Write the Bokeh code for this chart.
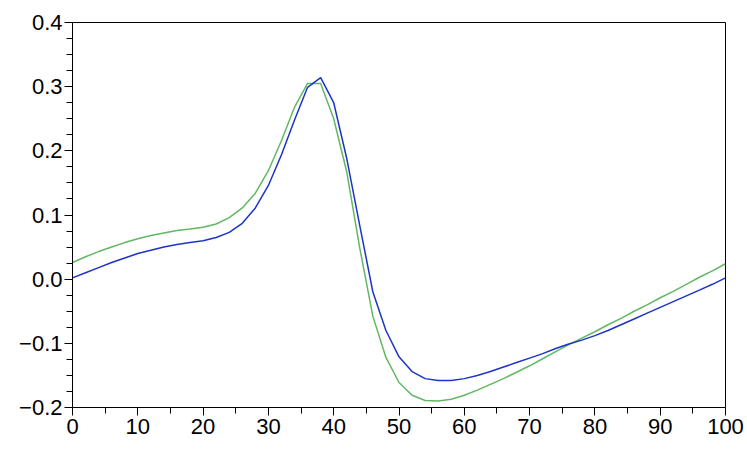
from bokeh.plotting import figure
from bokeh.models import Range1d, FixedTicker, CustomJSTickFormatter
from bokeh.embed import file_html
from bokeh.resources import INLINE

x = list(range(0, 101, 2))

blue = [0.002, 0.010, 0.018, 0.026, 0.033, 0.040, 0.045, 0.050, 0.054, 0.057,
        0.060, 0.065, 0.073, 0.087, 0.111, 0.146, 0.194, 0.248, 0.299, 0.314,
        0.275, 0.188, 0.083, -0.020, -0.080, -0.121, -0.144, -0.155, -0.158, -0.158,
        -0.155, -0.150, -0.144, -0.137, -0.130, -0.123, -0.116, -0.108, -0.101, -0.095,
        -0.088, -0.080, -0.071, -0.062, -0.053, -0.044, -0.035, -0.026, -0.017, -0.008,
        0.002]

green = [0.026, 0.035, 0.043, 0.050, 0.057, 0.063, 0.068, 0.072, 0.076, 0.078,
         0.081, 0.086, 0.096, 0.111, 0.134, 0.169, 0.216, 0.268, 0.305, 0.305,
         0.250, 0.167, 0.048, -0.058, -0.122, -0.161, -0.181, -0.189, -0.190, -0.187,
         -0.181, -0.173, -0.164, -0.155, -0.145, -0.135, -0.124, -0.113, -0.102, -0.092,
         -0.082, -0.071, -0.061, -0.050, -0.040, -0.029, -0.019, -0.008, 0.003, 0.013,
         0.024]

x_major = [0, 10, 20, 30, 40, 50, 60, 70, 80, 90, 100]
x_minor = [5, 15, 25, 35, 45, 55, 65, 75, 85, 95]
y_major = [-0.2, -0.1, 0.0, 0.1, 0.2, 0.3, 0.4]
y_minor = [round(-0.2 + 0.025 * i, 3) for i in range(25)]

p = figure(frame_width=653, frame_height=385,
           x_range=Range1d(0, 100), y_range=Range1d(-0.2, 0.4),
           output_backend="svg", toolbar_location=None,
           min_border_left=72, min_border_right=22, min_border_top=22,
           min_border_bottom=36)

p.xgrid.visible = False
p.ygrid.visible = False
p.outline_line_color = "black"
p.outline_line_width = 1
p.outline_line_alpha = 1
p.background_fill_color = "white"
p.border_fill_color = "white"

p.line(x, green, line_color="#62b862", line_width=1.5)
p.line(x, blue, line_color="#1c34c8", line_width=1.5)

p.xaxis.ticker = FixedTicker(ticks=x_major, minor_ticks=x_minor)
p.yaxis.ticker = FixedTicker(ticks=y_major, minor_ticks=y_minor)
p.yaxis.formatter = CustomJSTickFormatter(code="return tick.toFixed(1).replace('-', '\u2212');")
p.xaxis.formatter = CustomJSTickFormatter(code="return tick.toFixed(0);")

for ax in (p.xaxis[0], p.yaxis[0]):
    ax.axis_line_color = "black"
    ax.axis_line_width = 1
    ax.major_tick_line_color = "black"
    ax.minor_tick_line_color = "black"
    ax.major_tick_in = 0
    ax.major_tick_out = 8
    ax.minor_tick_in = 0
    ax.minor_tick_out = 6
    ax.major_label_text_font = "Liberation Sans"
    ax.major_label_text_font_size = "22px"
    ax.major_label_text_color = "black"

p.yaxis.major_label_standoff = 2
p.xaxis.major_label_standoff = 3

open("out.html", "w").write(file_html(p, INLINE))
